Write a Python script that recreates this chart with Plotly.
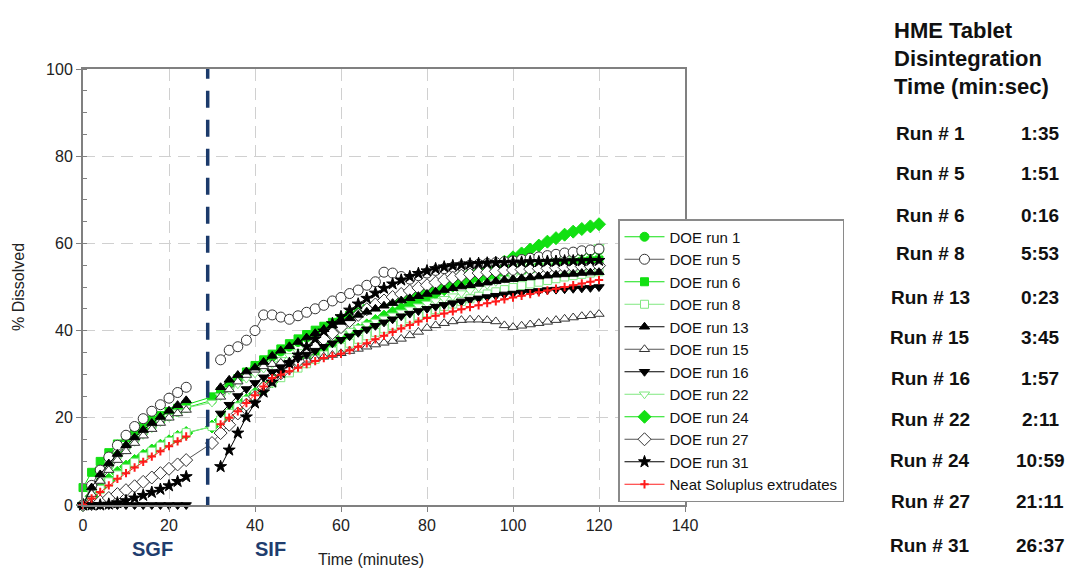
import plotly.graph_objects as go

# Sampling times (min): SGF stage 0-24, SIF stage 30-120
TIME = [0, 2, 4, 6, 8, 10, 12, 14, 16, 18, 20, 22, 24,
        30, 32, 34, 36, 38, 40, 42, 44, 46, 48, 50, 52, 54, 56, 58, 60,
        62, 64, 66, 68, 70, 72, 74, 76, 78, 80, 82, 84, 86, 88, 90,
        92, 94, 96, 98, 100, 102, 104, 106, 108, 110, 112, 114, 116, 118, 120]

# % dissolved for each formulation
RUN_1 = [0, 3.5, 6.5, 9, 11.3, 13.3, 15, 16.6, 18, 19.3, 20.4, 21.4, 22.3,
         24, 25.5, 27, 28.5, 30, 31.5, 32.8, 34, 35.2, 36.3, 37.4, 38.4, 39.4, 40.4, 41.3,
         42.2, 43.1, 44, 44.8, 45.6, 46.4, 47.2, 48, 48.7, 49.4, 50.1, 50.8, 51.4, 52, 52.6,
         53.2, 53.7, 54.2, 54.7, 55.2, 55.6, 56, 56.4, 56.7, 57, 57.3, 57.6, 57.8, 58, 58.2, 58.4]
RUN_5 = [0, 4.5, 8, 11, 13.7, 16, 18, 19.8, 21.5, 23, 24.5, 25.8, 27,
         None, 33.3, 35.5, 36.3, 37.8, 40, 43.6, 43.6, 43.1, 42.6, 43.4, 44.2, 45, 45.8, 46.8,
         47.6, 48.5, 49.3, 50.4, 51.2, 53.4, 53.2, 52.4, 51.8, 52.6, 53.2, 53.8, 54.2, 54.5, 54.8,
         55, 55.2, 55.4, 55.6, 55.8, 56, 56.3, 56.6, 56.9, 57.2, 57.5, 57.8, 58, 58.3, 58.5, 58.7]
RUN_6 = [4, 7.5, 10, 12, 14, 15.5, 17, 18.3, 19.5, 20.5, 21.4, 22.2, 23,
         24.8, 26, 27.5, 29, 30.5, 32, 33.3, 34.6, 35.8, 37, 38.1, 39.1, 40.1, 41, 41.9,
         42.7, 43.5, 44.3, 45, 45.7, 46.4, 47, 47.6, 48.2, 48.8, 49.3, 49.8, 50.3, 50.8, 51.3,
         51.7, 52.1, 52.5, 52.9, 53.3, 53.6, 53.9, 54.2, 54.5, 54.8, 55.1, 55.4, 55.6, 55.8, 56, 56.2]
RUN_8 = [0, 1.8, 3.6, 5.3, 6.9, 8.4, 9.8, 11.1, 12.3, 13.5, 14.6, 15.6, 16.6,
         18, 19.5, 21, 22.5, 24, 25.4, 26.7, 28, 29.2, 30.3, 31.4, 32.4, 33.4, 34.4, 35.3,
         36.2, 37.1, 38, 38.8, 39.6, 40.4, 41.2, 42, 42.7, 43.4, 44.1, 44.8, 45.5, 46.1, 46.7,
         47.3, 47.9, 48.4, 48.9, 49.4, 49.9, 50.3, 50.7, 51.1, 51.5, 51.9, 52.3, 52.6, 52.9, 53.2, 53.5]
RUN_13 = [0, 4, 7, 9.5, 11.7, 13.7, 15.5, 17.2, 18.8, 20.2, 21.6, 22.9, 24,
          None, 27, 28.7, 29.8, 30.6, 31.5, 32.8, 34.2, 35.4, 36.4, 37.4, 38.4, 39.4, 40.3, 41.2,
          42, 42.8, 43.6, 44.3, 45, 45.7, 46.3, 46.9, 47.4, 47.9, 48.4, 48.9, 49.3, 49.7, 50.1,
          50.4, 50.7, 51, 51.3, 51.6, 51.8, 52, 52.2, 52.4, 52.6, 52.8, 52.9, 53, 53.2, 53.3, 53.4]
RUN_15 = [0, 2.5, 5.5, 8, 10.3, 12.3, 14.2, 15.9, 17.4, 18.8, 20, 21, 21.8,
          None, 24.8, 26.5, 28.3, 29.8, 31, 31.8, 32.3, 32.6, 32.8, 33, 33.3, 33.6, 34, 34.4,
          34.8, 35.3, 35.8, 36.3, 36.8, 37.2, 37.6, 38.1, 38.9, 39.7, 40.6, 41.2, 41.7, 42.1, 42.4,
          42.5, 42.5, 42.4, 42.1, 41.2, 40.8, 41.1, 41.4, 41.7, 42, 42.4, 42.7, 43, 43.3, 43.5, 43.8]
RUN_16 = [0, 0, 0, 0, 0, 0, 0, 0, 0, 0, 0, 0, 0,
          None, 21, 23, 25, 26.6, 28, 29.3, 30.5, 31.6, 32.6, 33.6, 34.5, 35.4, 36.3, 37.1,
          37.9, 38.7, 39.5, 40.3, 41.1, 41.9, 42.6, 43.3, 43.9, 44.5, 45, 45.5, 45.9, 46.3, 46.7,
          47.1, 47.4, 47.7, 48, 48.3, 48.5, 48.7, 48.9, 49.1, 49.3, 49.4, 49.5, 49.6, 49.7, 49.8, 50]
RUN_22 = [0, 3, 6, 8.5, 10.7, 12.7, 14.5, 16.1, 17.6, 19, 20.2, 21.3, 22.3,
          23.5, 25, 26.4, 27.7, 29, 30.2, 31.3, 32.3, 33.3, 34.2, 35.1, 36, 36.8, 37.6, 38.4,
          39.2, 40, 40.7, 41.4, 42.1, 42.8, 43.5, 44.2, 44.9, 45.6, 46.2, 46.8, 47.3, 47.9, 48.6,
          49.2, 49.9, 50.5, 51.2, 51.9, 52.5, 53.2, 53.8, 54.5, 55.2, 55.8, 56.5, 57.1, 57.8, 58.5, 59.2]
RUN_24 = [0, 2, 4, 5.8, 7.4, 8.8, 10.1, 11.3, 12.5, 13.6, 14.6, 15.6, 16.5,
          18, 19.5, 21, 22.5, 24, 25.5, 27, 28.4, 29.8, 31.1, 32.4, 33.6, 34.8, 36, 37.1,
          38.2, 39.2, 40.2, 41.2, 42.2, 43.2, 44.1, 45, 45.9, 46.8, 47.7, 48.6, 49.5, 50.3, 51.1,
          51.9, 52.8, 53.8, 54.8, 55.8, 56.8, 57.7, 58.6, 59.5, 60.4, 61.2, 62, 62.7, 63.3, 63.9, 64.4]
RUN_27 = [0, 0.2, 0.8, 1.6, 2.5, 3.4, 4.3, 5.3, 6.3, 7.3, 8.3, 9.3, 10.3,
          14.2, 16.5, 18.4, 21, 23, 24.8, 27, 28.8, 30.2, 31.5, 33, 34.8, 36.5, 38, 39.4,
          40.8, 42.2, 43.6, 44.9, 46, 46.9, 47.7, 48.4, 49.1, 49.8, 50.4, 51, 51.6, 52.1, 52.6,
          52.9, 53.2, 53.4, 53.6, 53.8, 53.9, 54, 54.1, 54.2, 54.3, 54.4, 54.5, 54.6, 54.7, 54.8, 54.9]
RUN_31 = [0, 0, 0, 0.2, 0.5, 1, 1.6, 2.2, 2.9, 3.6, 4.4, 5.4, 6.5,
          None, 8.8, 12.6, 16.5, 20.2, 23.4, 25.9, 28.2, 30.4, 32.5, 34.4, 36.3, 38.1, 39.9, 41.6,
          43.2, 44.7, 46.1, 47.4, 48.6, 49.7, 50.7, 51.6, 52.4, 53.1, 53.7, 54.2, 54.6, 54.9, 55.1,
          55.3, 55.4, 55.5, 55.6, 55.6, 55.7, 55.7, 55.8, 55.8, 55.9, 55.9, 56, 56, 56, 56.1, 56.1]
NEAT = [0, 1.5, 3, 4.5, 6, 7.3, 8.6, 9.9, 11.1, 12.3, 13.5, 14.6, 15.7,
        None, 18.5, 20, 21.5, 23.4, 25.2, 27.2, 29.1, 29.9, 30.7, 31.5, 32.3, 33, 33.7, 34.2,
        34.7, 35.5, 36.3, 37.1, 38, 38.8, 39.7, 40.5, 41.3, 42.1, 42.9, 43.4, 43.9, 44.4, 44.9,
        45.4, 45.8, 46.3, 46.7, 47.2, 47.6, 48, 48.4, 48.8, 49.2, 49.6, 50, 50.4, 50.8, 51.2, 51.6]

MEDIUM_SWITCH = 29  # SGF -> SIF change (min)

# Disintegration table
TABLE_HEADER = ["HME Tablet", "Disintegration", "Time (min:sec)"]
TABLE_RUNS = ["Run # 1", "Run # 5", "Run # 6", "Run # 8", "Run # 13", "Run # 15",
              "Run # 16", "Run # 22", "Run # 24", "Run # 27", "Run # 31"]
TABLE_TIMES = ["1:35", "1:51", "0:16", "5:53", "0:23", "3:45",
               "1:57", "2:11", "10:59", "21:11", "26:37"]

GREEN = "#12e012"
LIGHT = "#80e880"
FONT = "Liberation Sans, Arial, sans-serif"

# name, values, symbol, fill, edge, line colour, size, legend rank
SERIES = [
    ("DOE run 24", RUN_24, "diamond", GREEN, GREEN, GREEN, 10, 9),
    ("DOE run 6", RUN_6, "square", GREEN, GREEN, GREEN, 8, 3),
    ("DOE run 1", RUN_1, "circle", GREEN, GREEN, GREEN, 9, 1),
    ("DOE run 8", RUN_8, "square", "white", LIGHT, LIGHT, 8, 4),
    ("DOE run 22", RUN_22, "triangle-down", "white", LIGHT, LIGHT, 9, 8),
    ("DOE run 5", RUN_5, "circle", "white", "#333333", "#555555", 10, 2),
    ("DOE run 15", RUN_15, "triangle-up", "white", "#333333", "#555555", 9, 6),
    ("DOE run 27", RUN_27, "diamond", "white", "#333333", "#555555", 10, 10),
    ("DOE run 16", RUN_16, "triangle-down", "black", "black", "black", 9, 7),
    ("DOE run 13", RUN_13, "triangle-up", "black", "black", "black", 9, 5),
    ("DOE run 31", RUN_31, "star", "black", "black", "black", 9, 11),
    ("Neat Soluplus extrudates", NEAT, "cross-thin", "#ff1a1a", "#ff1a1a", "#ff2020", 6, 12),
]

fig = go.Figure()
for name, vals, sym, fill, edge, lcol, size, rank in SERIES:
    marker = dict(symbol=sym, size=size, color=fill, line=dict(color=edge, width=1))
    if sym == "cross-thin":
        marker = dict(symbol=sym, size=size, line=dict(color=edge, width=2))
    fig.add_trace(go.Scatter(
        x=TIME, y=vals, name=name, mode="lines+markers",
        line=dict(color=lcol, width=1), marker=marker,
        cliponaxis=False, connectgaps=False, legendrank=rank,
    ))

# plot-area pixel frame used to place the surrounding text
PL, PR, PT, PB = 83, 685, 69, 505


def fx(px):
    return (px - PL) / (PR - PL)


def fy(py):
    return (PB - py) / (PB - PT)


fig.add_shape(type="line", x0=MEDIUM_SWITCH, x1=MEDIUM_SWITCH, y0=-2, y1=100,
              xref="x", yref="y", line=dict(color="#1b3a6b", width=3.5, dash="17px,12px"))

ann = []
ann.append(dict(text="<b>SGF</b>", x=fx(152), y=fy(549), font=dict(size=20, color="#1f3d6e", family=FONT)))
ann.append(dict(text="<b>SIF</b>", x=fx(270), y=fy(549), font=dict(size=20, color="#1f3d6e", family=FONT)))
ann.append(dict(text="Time (minutes)", x=fx(371), y=fy(559), font=dict(size=16, color="#222", family=FONT)))
ann.append(dict(text="% Dissolved", x=fx(18), y=fy(287), textangle=-90,
                font=dict(size=16, color="#222", family=FONT)))

head_y = [30, 58, 87]
for txt, py in zip(TABLE_HEADER, head_y):
    ann.append(dict(text="<b>" + txt + "</b>", x=fx(892), y=fy(py), xanchor="left",
                    font=dict(size=22, color="#111", family=FONT)))
row_y = [133, 173, 215, 254, 297, 337, 378, 419, 460, 501, 545]
for run, tm, py in zip(TABLE_RUNS, TABLE_TIMES, row_y):
    ann.append(dict(text="<b>" + run + "</b>", x=fx(930), y=fy(py),
                    font=dict(size=19, color="#111", family=FONT)))
    ann.append(dict(text="<b>" + tm + "</b>", x=fx(1040), y=fy(py),
                    font=dict(size=19, color="#111", family=FONT)))

for a in ann:
    a.setdefault("xanchor", "center")
    a.update(xref="paper", yref="paper", yanchor="middle", showarrow=False)

axis_common = dict(
    showline=True, linecolor="#808080", linewidth=2, mirror=True,
    showgrid=True, gridcolor="#d0d0d0", gridwidth=1, griddash="12px,7px",
    zeroline=False, ticks="outside", ticklen=5, tickcolor="#808080",
    tickfont=dict(size=16, color="#222", family=FONT),
)

fig.update_layout(
    width=1073, height=573,
    margin=dict(l=PL, r=1073 - PR, t=PT, b=573 - PB),
    paper_bgcolor="white", plot_bgcolor="white",
    font=dict(family=FONT),
    xaxis=dict(range=[0, 140], dtick=20, **axis_common),
    yaxis=dict(range=[0, 100], dtick=20,
               minor=dict(dtick=5, ticks="inside", ticklen=4, tickcolor="#808080", showgrid=False),
               **axis_common),
    legend=dict(x=fx(618), y=fy(219), xanchor="left", yanchor="top",
                bgcolor="white", bordercolor="#8a8a8a", borderwidth=1.5, itemwidth=40,
                font=dict(size=15, color="#111", family=FONT), tracegroupgap=0),
    annotations=ann,
)

fig.write_html("out.html")
